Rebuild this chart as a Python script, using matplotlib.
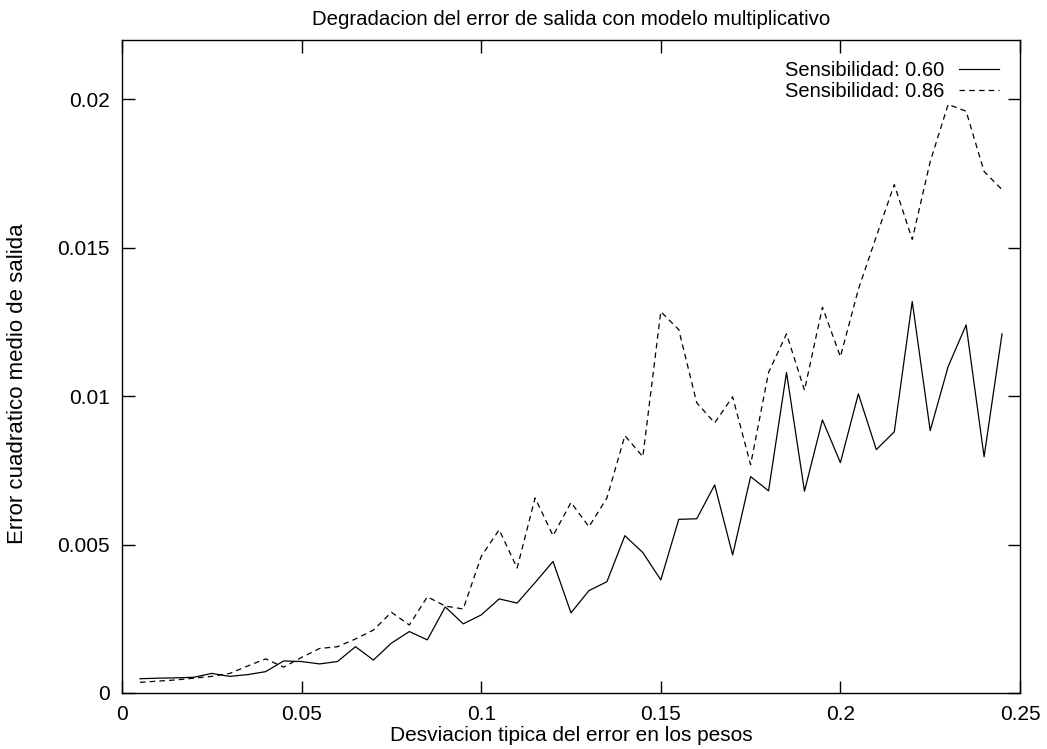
import matplotlib
matplotlib.use("Agg")
import matplotlib.pyplot as plt
from matplotlib.ticker import FuncFormatter, MultipleLocator

plt.rcParams['font.family'] = ['Liberation Sans', 'DejaVu Sans']
plt.rcParams['lines.scale_dashes'] = False

sigma = [0.005, 0.010, 0.015, 0.020, 0.025, 0.030, 0.035, 0.040, 0.045, 0.050,
         0.055, 0.060, 0.065, 0.070, 0.075, 0.080, 0.085, 0.090, 0.095, 0.100,
         0.105, 0.110, 0.115, 0.120, 0.125, 0.130, 0.135, 0.140, 0.145, 0.150,
         0.155, 0.160, 0.165, 0.170, 0.175, 0.180, 0.185, 0.190, 0.195, 0.200,
         0.205, 0.210, 0.215, 0.220, 0.225, 0.230, 0.235, 0.240, 0.245]

err_060 = [0.00048, 0.00050, 0.00051, 0.00053, 0.00066, 0.00056, 0.00062, 0.00072, 0.00108, 0.00106,
           0.00098, 0.00106, 0.00156, 0.00111, 0.00168, 0.00207, 0.00179, 0.00290, 0.00233, 0.00263,
           0.00317, 0.00303, 0.00372, 0.00443, 0.00270, 0.00345, 0.00375, 0.00530, 0.00473, 0.00381,
           0.00585, 0.00587, 0.00701, 0.00465, 0.00729, 0.00681, 0.01080, 0.00680, 0.00920, 0.00776,
           0.01008, 0.00820, 0.00880, 0.01319, 0.00884, 0.01100, 0.01240, 0.00796, 0.01210]

err_086 = [0.00036, 0.00040, 0.00044, 0.00050, 0.00056, 0.00066, 0.00091, 0.00115, 0.00087, 0.00120,
           0.00150, 0.00156, 0.00182, 0.00212, 0.00272, 0.00229, 0.00324, 0.00293, 0.00283, 0.00460,
           0.00550, 0.00421, 0.00657, 0.00530, 0.00642, 0.00560, 0.00657, 0.00867, 0.00796, 0.01285,
           0.01224, 0.00978, 0.00910, 0.00998, 0.00769, 0.01080, 0.01210, 0.01020, 0.01300, 0.01133,
           0.01360, 0.01538, 0.01713, 0.01528, 0.01790, 0.01983, 0.01960, 0.01757, 0.01696]

fig = plt.figure(figsize=(10.47, 7.49), dpi=100)
ax = fig.add_axes([122 / 1047, 1 - 693 / 749, 898 / 1047, 653 / 749])

ax.plot(sigma, err_060, color='black', linewidth=0.9, label='Sensibilidad: 0.60')
ax.plot(sigma, err_086, color='black', linewidth=0.9, linestyle=(0, (4, 3)),
        label='Sensibilidad: 0.86')

ax.set_xlim(0, 0.25)
ax.set_ylim(0, 0.022)
ax.xaxis.set_major_locator(MultipleLocator(0.05))
ax.yaxis.set_major_locator(MultipleLocator(0.005))
fmt = FuncFormatter(lambda v, p: '%g' % round(v, 6))
ax.xaxis.set_major_formatter(fmt)
ax.yaxis.set_major_formatter(fmt)
ax.tick_params(direction='in', length=9, width=1, top=True, right=True,
               labelsize=15, pad=9)
for s in ax.spines.values():
    s.set_linewidth(1)

ax.set_title('Degradacion del error de salida con modelo multiplicativo',
             fontsize=14.7, pad=10.5)
ax.set_xlabel('Desviacion tipica del error en los pesos', fontsize=15, labelpad=1)
ax.set_ylabel('Error cuadratico medio de salida', fontsize=16)
ax.yaxis.set_label_coords(-0.105, 0.474)

ax.legend(loc='upper right', frameon=False, markerfirst=False, fontsize=14.5,
          handlelength=2.0, handletextpad=0.7, labelspacing=0.1,
          borderpad=0.4, borderaxespad=0.65)

fig.savefig('out.png', dpi=100)
